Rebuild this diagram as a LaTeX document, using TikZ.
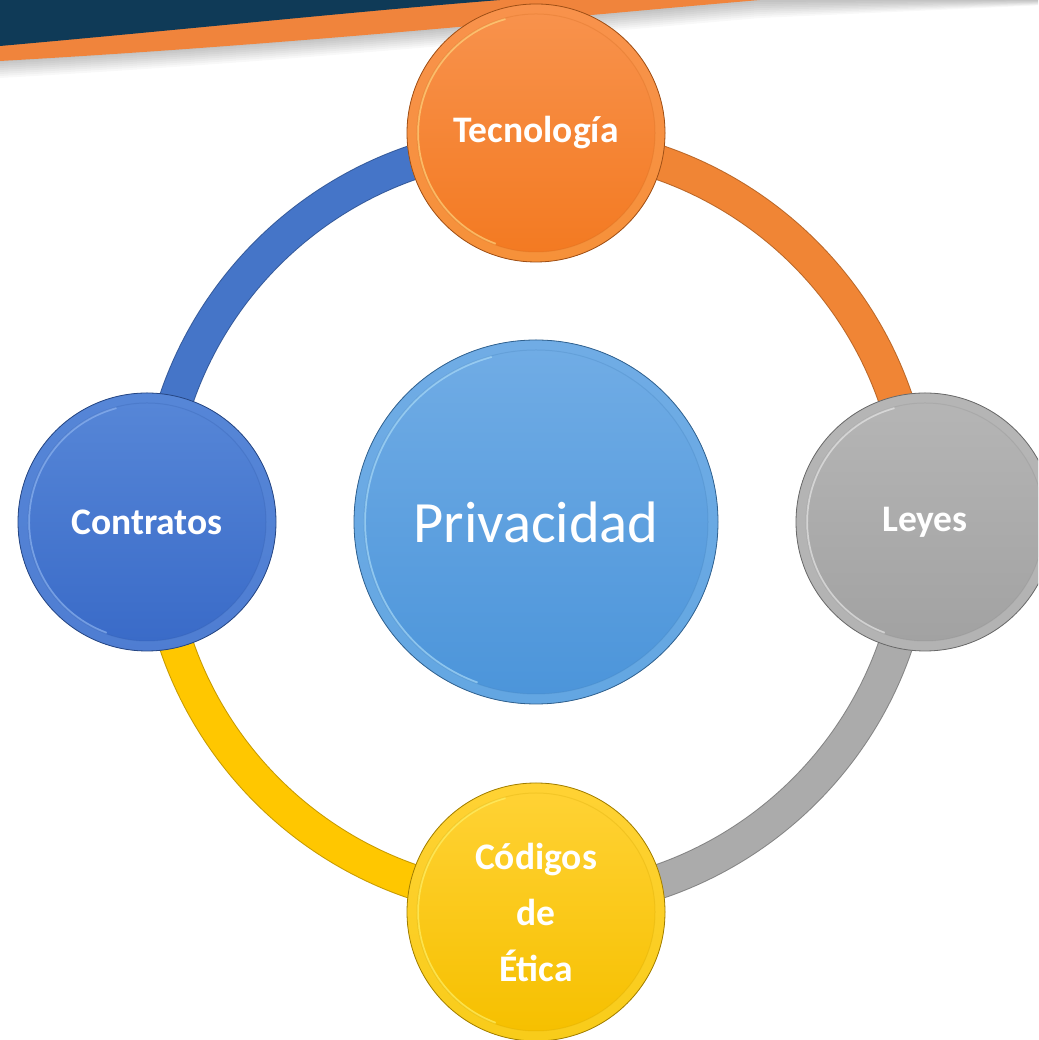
\documentclass[tikz,border=0pt]{standalone}
\usepackage{fontspec}
\setmainfont{Carlito}
\usetikzlibrary{calc}
\definecolor{navy}{HTML}{0F3A57}
\definecolor{stripe}{HTML}{F0843C}
\definecolor{rblue}{HTML}{4575C8}
\definecolor{rorange}{HTML}{F08535}
\definecolor{rgrey}{HTML}{ABABAB}
\definecolor{rgold}{HTML}{FFC700}
\definecolor{bbot}{HTML}{3A6BC8}\definecolor{btop}{HTML}{5686D7}\definecolor{bhi}{HTML}{8DB4F0}
\definecolor{obot}{HTML}{F37A22}\definecolor{otop}{HTML}{F8924C}\definecolor{ohi}{HTML}{FFD47E}
\definecolor{gbot}{HTML}{A2A2A2}\definecolor{gtop}{HTML}{B5B5B5}\definecolor{ghi}{HTML}{E6E6E6}
\definecolor{ybot}{HTML}{F6C000}\definecolor{ytop}{HTML}{FFD234}\definecolor{yhi}{HTML}{FFF066}
\definecolor{pbot}{HTML}{4C95DA}\definecolor{ptop}{HTML}{70ACE5}\definecolor{phi}{HTML}{A8DAF8}
\begin{document}
\begin{tikzpicture}[x=1pt,y=1pt,
  ring/.style={draw=#1!78!black, double=#1, double distance=33pt, line width=1pt},
  bead/.style n args={4}{circle, minimum size=#1, inner sep=0pt, draw=#2!65!black,
    line width=0.8pt, fill=#2, text=white, align=center,
    path picture={
      \shade[top color=#3, bottom color=#2!75!#4] (path picture bounding box.south west) rectangle (path picture bounding box.north east);
      \shade[top color=#3, bottom color=#2] (path picture bounding box.center) circle[radius={0.5*#1-10pt}];
      \draw[#4, opacity=0.7, line width=2pt] (path picture bounding box.center) ++(105:{0.5*#1-11pt}) arc[start angle=105, end angle=250, radius={0.5*#1-11pt}];
      \draw[#2!85!black, opacity=0.25, line width=1pt] (path picture bounding box.center) circle[radius={0.5*#1-10pt}];
    }},
  lbl/.style={font=\fontsize{37.5}{56}\selectfont\bfseries}]
\useasboundingbox (0,0) rectangle (1038,1040);
\clip (0,0) rectangle (1038,1040);
\fill[white] (0,0) rectangle (1038,1040);
% banner shadow
\foreach \k in {2,4,...,18}{
  \fill[black, opacity=0.028] (0,1040) -- (0,{980-\k}) .. controls (300,{997-\k}) and (550,{1022-\k}) .. (760,{1040-\k}) -- (1038,{1040-0.3*\k}) -- (1038,1040) -- cycle;
}
% banner
\fill[stripe] (0,1040) -- (0,979) .. controls (300,996) and (550,1022) .. (760,1040) -- cycle;
\fill[navy] (0,1040) -- (0,994) .. controls (180,1010) and (350,1028) .. (500,1040) -- cycle;
% ring
\coordinate (ctr) at (536,518);
\draw[ring=rblue] ($(ctr)+(90:380)$) arc[start angle=90, end angle=180, radius=380];
\draw[ring=rorange] ($(ctr)+(0:380)$) arc[start angle=0, end angle=90, radius=380];
\draw[ring=rgrey] ($(ctr)+(-90:380)$) arc[start angle=-90, end angle=0, radius=380];
\draw[ring=rgold] ($(ctr)+(180:380)$) arc[start angle=180, end angle=270, radius=380];
% nodes
\node[bead={364pt}{pbot}{ptop}{phi}, font=\fontsize{58.5}{62}\selectfont] (pri) at (536,518) {Privacidad};
\node[bead={258pt}{obot}{otop}{ohi}, lbl] (tec) at (536,907) {Tecnología};
\node[bead={258pt}{bbot}{btop}{bhi}, lbl] (con) at (147,518) {Contratos};
\node[bead={258pt}{gbot}{gtop}{ghi}, lbl] (ley) at (925,518) {Leyes};
\node[bead={258pt}{ybot}{ytop}{yhi}, lbl] (cod) at (536,128) {Códigos\\de\\Ética};
\end{tikzpicture}
\end{document}
